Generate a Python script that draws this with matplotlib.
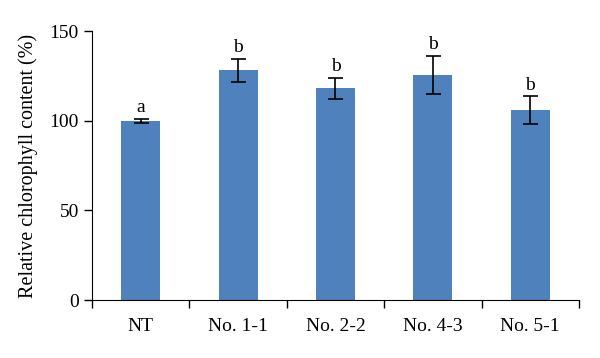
import numpy as np
import matplotlib.pyplot as plt

plt.rcParams['font.family'] = ['Liberation Serif', 'DejaVu Serif']

groups = ['NT', 'No. 1-1', 'No. 2-2', 'No. 4-3', 'No. 5-1']
values = [100.0, 128.2, 118.1, 125.7, 105.8]
errors = [1.2, 6.5, 5.8, 10.7, 7.8]
letters = ['a', 'b', 'b', 'b', 'b']

fig = plt.figure(figsize=(6, 3.58), dpi=100)
ax = fig.add_axes([0.1533, 0.162, 0.8117, 0.751])

x = np.arange(len(groups))
ax.bar(x, values, width=0.4, color='#4F81BD', yerr=errors,
       error_kw=dict(ecolor='black', elinewidth=1.2, capsize=5.4, capthick=1.2))
for xi, v, e, t in zip(x, values, errors, letters):
    ax.text(xi, v + e + 1.5, t, ha='center', va='bottom', fontsize=14)

ax.set_xlim(-0.5, len(groups) - 0.5)
ax.set_ylim(0, 150)
ax.set_yticks([0, 50, 100, 150])
ax.set_xticks(x)
ax.set_xticklabels(groups, fontsize=14)
ax.set_xticks(np.arange(-0.5, len(groups)), minor=True)
ax.tick_params(axis='x', which='major', length=0, pad=13)
ax.tick_params(axis='x', which='minor', length=6, width=1)
ax.tick_params(axis='y', labelsize=14, length=5.5, width=1, pad=4)
ax.set_ylabel('Relative chlorophyll content (%)', fontsize=14.5, labelpad=8)
for s in ['top', 'right']:
    ax.spines[s].set_visible(False)

fig.savefig('out.png', dpi=100)
